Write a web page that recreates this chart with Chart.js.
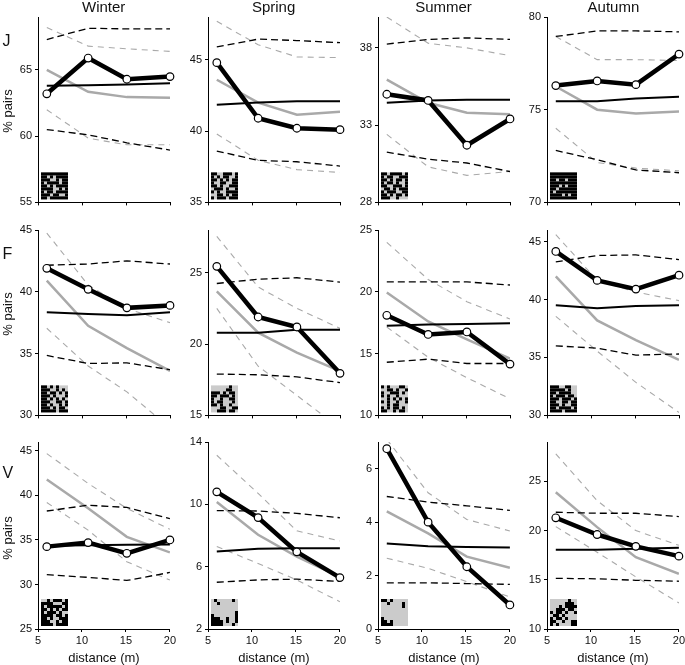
<!DOCTYPE html>
<html lang="en">
<head>
<meta charset="UTF-8">
<title>% pairs by distance</title>
<script src="https://cdn.jsdelivr.net/npm/chart.js"></script>
<style>
  body { margin: 0; width: 685px; height: 665px; overflow: hidden; background: white;
         font-family: "Liberation Sans", Arial, sans-serif; color: #111; position: relative; }
  .panel { position: absolute; }
  .season { position: absolute; top: -1px; width: 132px; text-align: center; font-size: 15px; line-height: 15px; }
  .rowlab { position: absolute; left: 2.5px; font-size: 16px; line-height: 16px; }
  .ylab { position: absolute; left: 7px; font-size: 13px; white-space: nowrap;
          transform: translate(-50%, -50%) rotate(-90deg); }
</style>
</head>
<body>
<script>
const seasons = ["Winter", "Spring", "Summer", "Autumn"];
const rowNames = ["J", "F", "V"];
const distance = [6, 10.7, 15.1, 20];
const xTicks = [5, 10, 15, 20];

// panels in reading order: J-Winter .. J-Autumn, F-Winter .. F-Autumn, V-Winter .. V-Autumn
const yMin = [55, 35, 28, 70, 30, 15, 10, 30, 25, 2, 0, 10];
const yMax = [69, 48, 40, 80, 45, 28, 25, 46, 46, 14, 7, 29];
const yTicks = [
  [55, 60, 65], [35, 40, 45], [28, 33, 38], [70, 75, 80],
  [30, 35, 40, 45], [15, 20, 25], [10, 15, 20, 25], [30, 35, 40, 45],
  [25, 30, 35, 40, 45], [2, 6, 10, 14], [0, 2, 4, 6], [10, 15, 20, 25]
];

const observed = [
  [63.2, 65.9, 64.3, 64.5], [44.8, 40.9, 40.2, 40.1], [35.0, 34.6, 31.7, 33.4], [76.3, 76.55, 76.35, 78.0],
  [41.9, 40.2, 38.7, 38.9], [25.45, 21.9, 21.2, 17.95], [18.1, 16.55, 16.75, 14.15], [44.15, 41.65, 40.9, 42.1],
  [34.25, 34.7, 33.5, 35.0], [10.8, 9.15, 6.95, 5.3], [6.75, 4.0, 2.33, 0.9], [21.3, 19.6, 18.4, 17.4]
];
const nullMean = [
  [63.8, 63.85, 63.9, 64.0], [41.85, 42.0, 42.1, 42.1], [34.45, 34.6, 34.65, 34.65], [75.45, 75.45, 75.6, 75.7],
  [38.35, 38.2, 38.1, 38.35], [20.8, 20.8, 21.0, 21.0], [17.25, 17.35, 17.4, 17.45], [39.5, 39.25, 39.45, 39.5],
  [34.35, 34.4, 34.45, 34.5], [6.97, 7.15, 7.18, 7.18], [3.2, 3.1, 3.07, 3.05], [18.05, 18.05, 18.15, 18.25]
];
const nullHi = [
  [67.3, 68.15, 68.1, 68.1], [45.9, 46.45, 46.35, 46.2], [38.25, 38.55, 38.65, 38.55], [78.95, 79.25, 79.25, 79.2],
  [42.15, 42.25, 42.5, 42.25], [24.25, 24.55, 24.65, 24.35], [20.8, 20.8, 20.8, 20.55], [43.25, 43.8, 43.85, 43.45],
  [38.25, 38.9, 38.65, 37.4], [9.6, 9.57, 9.42, 9.14], [4.96, 4.75, 4.61, 4.44], [21.86, 21.76, 21.76, 21.42]
];
const nullLo = [
  [60.5, 60.1, 59.5, 58.95], [38.6, 37.95, 37.85, 37.55], [31.25, 30.8, 30.55, 30.0], [72.8, 72.3, 71.75, 71.6],
  [34.85, 34.2, 34.25, 33.7], [17.9, 17.85, 17.7, 17.3], [14.3, 14.55, 14.2, 14.2], [36.0, 35.8, 35.2, 35.3],
  [31.1, 30.8, 30.45, 31.35], [5.0, 5.15, 5.2, 5.05], [1.73, 1.73, 1.7, 1.67], [15.15, 15.1, 14.95, 14.85]
];
const modelMean = [
  [65.0, 63.35, 62.95, 62.9], [43.6, 42.0, 41.15, 41.35], [35.95, 34.45, 33.8, 33.7], [76.25, 75.0, 74.8, 74.9],
  [40.9, 37.25, 35.45, 33.6], [23.7, 20.8, 19.4, 18.1], [19.95, 17.6, 16.15, 14.6], [42.0, 38.2, 36.5, 34.8],
  [41.8, 38.55, 35.35, 33.6], [10.15, 8.05, 6.65, 5.35], [4.4, 3.58, 2.71, 2.29], [23.9, 20.35, 17.3, 15.6]
];
const modelHi = [
  [68.2, 66.8, 66.6, 66.4], [47.7, 46.05, 45.2, 45.15], [40.0, 38.3, 38.0, 37.5], [78.95, 77.7, 77.7, 77.65],
  [44.75, 40.55, 38.65, 37.5], [27.55, 24.0, 22.5, 21.1], [24.0, 21.0, 19.2, 17.8], [45.6, 41.65, 40.65, 39.9],
  [44.7, 41.35, 38.55, 36.2], [13.15, 10.7, 8.3, 7.65], [7.1, 5.1, 4.1, 3.67], [27.8, 23.05, 20.0, 18.5]
];
const modelLo = [
  [62.0, 59.85, 59.35, 59.35], [39.8, 37.95, 37.3, 37.1], [32.4, 30.3, 29.75, 30.0], [74.0, 72.15, 71.85, 71.7],
  [37.05, 34.0, 31.9, 29.0], [22.5, 18.45, 16.4, 14.1], [17.15, 14.7, 13.05, 11.35], [38.55, 35.55, 32.85, 30.25],
  [39.2, 36.1, 32.55, 30.5], [7.3, 6.2, 5.15, 3.75], [2.65, 2.27, 1.77, 1.2], [20.4, 17.8, 15.3, 12.65]
];

// little habitat maps in the lower left corner ('#' = black cell, '.' = grey cell)
const insets = [
  ["#########", "##.#.####", "###..#.##", "#.####.##", "##.#.####", "####..#.#", "#.##.####", "###.##..#", "##.######"],
  ["##..###.#", "#.#.##..#", "##.#.#.##", "#..##..##", "##.#..###", ".###.#..#", "#.#..####", "..##.#.##", "#.###.###"],
  ["##.####.#", "#.##..###", "##.#.##.#", "#.##.#..#", "##..###.#", ".##.#.###", "#.###..##", "##.#.##.#", "###..#..."],
  ["#########", "#########", "##.##.###", "#########", "###.#.###", "##.######", "#.#######", "####.#.##", "#########"],
  ["##.#.#...", "###..#.#.", "##.##.#.#", "###.#...#", "##.#.#.#.", "###..##.#", "##.#..#.#", "###.#.##.", "#####.###"],
  ["......#..", ".....##..", "###.#.##.", "##.###.#.", "#..#..##.", "#.##...#.", "##.#..#..", "...##..##", "..###.##."],
  ["#.#...##.", "..##.#..#", "#..###.#.", "#.#..#...", "..#.#.#.#", "#.#..#..#", "..#.##...", "#.#.##.#.", "##..#.##."],
  ["###..##..", "#####.#..", "##.####..", "#.###.##.", "###.###.#", "##..##.##", "###.#..##", "##.####.#", "####.####"],
  ["..#.###.#", "####...##", "#.#####.#", "##.#.#.##", "#.###.#..", "####.##.#", "##.#..###", "###..#.##", "####.####"],
  [".#.....#.", "..#......", ".........", ".........", "........#", "#.......#", "###..#..#", "####.#..#", "####...#."],
  ["##.#.....", "..#....#.", ".......#.", ".........", ".........", ".........", "#........", "##.#.....", "####....."],
  ["......#..", ".....###.", "...#.####", "..###.##.", "#.##.#..#", ".##.#....", "#.##.#...", "##..#..##", "#.#....##"]
];

const colLeft = [37.7, 207.6, 377.5, 547.4];
const rowTop = [17, 229.5, 442];
const plotW = 132, plotH = 187;
const font = "'Liberation Sans', Arial, sans-serif";

const insetPlugin = {
  id: 'inset',
  beforeDatasetsDraw(chart, args, opts) {
    const pat = opts.pattern;
    if (!pat) return;
    const { ctx, chartArea } = chart;
    const cell = 3, n = pat.length;
    const x0 = chartArea.left + 3, y0 = chartArea.bottom - 3 - n * cell;
    ctx.save();
    ctx.fillStyle = '#cbcbcb';
    ctx.fillRect(x0, y0, n * cell, n * cell);
    ctx.fillStyle = '#000';
    pat.forEach((row, j) => {
      [...row].forEach((ch, k) => {
        if (ch === '#') ctx.fillRect(x0 + k * cell, y0 + j * cell, cell, cell);
      });
    });
    ctx.restore();
  }
};

function series(values, color, width, dash) {
  return {
    data: distance.map((x, k) => ({ x: x, y: values[k] })),
    borderColor: color,
    borderWidth: width,
    borderDash: dash || [],
    pointRadius: 0,
    fill: false,
    tension: 0
  };
}

function makePanel(i) {
  const r = Math.floor(i / 4), c = i % 4;
  const bottomRow = r === 2;
  const padTop = 10, axisW = 32, padRight = 8;
  const xH = bottomRow ? 40 : 8;

  const div = document.createElement('div');
  div.className = 'panel';
  div.style.left = (colLeft[c] - axisW) + 'px';
  div.style.top = (rowTop[r] - padTop) + 'px';
  const canvas = document.createElement('canvas');
  canvas.width = axisW + plotW + padRight;
  canvas.height = padTop + plotH + xH;
  div.appendChild(canvas);
  document.body.appendChild(div);

  const obs = series(observed[i], '#000', 4.5);
  obs.pointRadius = 3.8;
  obs.pointBackgroundColor = '#fff';
  obs.pointBorderColor = '#000';
  obs.pointBorderWidth = 1.2;
  obs.clip = false;

  new Chart(canvas, {
    type: 'line',
    data: {
      datasets: [
        obs,
        series(nullMean[i], '#000', 2),
        series(nullHi[i], '#000', 1.3, [7, 4]),
        series(nullLo[i], '#000', 1.3, [7, 4]),
        series(modelMean[i], '#a9a9a9', 2.5),
        series(modelHi[i], '#a9a9a9', 1.1, [6, 5]),
        series(modelLo[i], '#a9a9a9', 1.1, [6, 5])
      ]
    },
    options: {
      responsive: false,
      animation: false,
      events: [],
      layout: { padding: { top: padTop, right: padRight, left: 0, bottom: 0 } },
      plugins: {
        legend: { display: false },
        tooltip: { enabled: false },
        inset: { pattern: insets[i] }
      },
      scales: {
        x: {
          type: 'linear',
          min: 5,
          max: 20,
          afterBuildTicks: s => { s.ticks = xTicks.map(v => ({ value: v })); },
          afterFit: s => { s.height = xH; },
          grid: { drawOnChartArea: false, drawTicks: true, tickLength: 3, color: '#000' },
          border: { color: '#000', width: 1 },
          ticks: { display: bottomRow, color: '#111', font: { size: 11, family: font }, padding: 2, maxRotation: 0 },
          title: { display: bottomRow, text: 'distance (m)', color: '#111', font: { size: 13, family: font }, padding: { top: 0, bottom: 3 } }
        },
        y: {
          min: yMin[i],
          max: yMax[i],
          afterBuildTicks: s => { s.ticks = yTicks[i].map(v => ({ value: v })); },
          afterFit: s => { s.width = axisW; },
          grid: { drawOnChartArea: false, drawTicks: true, tickLength: 3, color: '#000' },
          border: { color: '#000', width: 1 },
          ticks: { color: '#111', font: { size: 11, family: font }, padding: 3 }
        }
      }
    },
    plugins: [insetPlugin]
  });
}

for (let i = 0; i < 12; i++) makePanel(i);

seasons.forEach((name, c) => {
  const d = document.createElement('div');
  d.className = 'season';
  d.style.left = colLeft[c] + 'px';
  d.textContent = name;
  document.body.appendChild(d);
});

const rowLabelY = [33, 245.5, 465];
const yLabelY = [111, 314, 538];
rowNames.forEach((name, r) => {
  const d = document.createElement('div');
  d.className = 'rowlab';
  d.style.top = rowLabelY[r] + 'px';
  d.textContent = name;
  document.body.appendChild(d);
  const t = document.createElement('div');
  t.className = 'ylab';
  t.style.top = yLabelY[r] + 'px';
  t.textContent = '% pairs';
  document.body.appendChild(t);
});
</script>
</body>
</html>
